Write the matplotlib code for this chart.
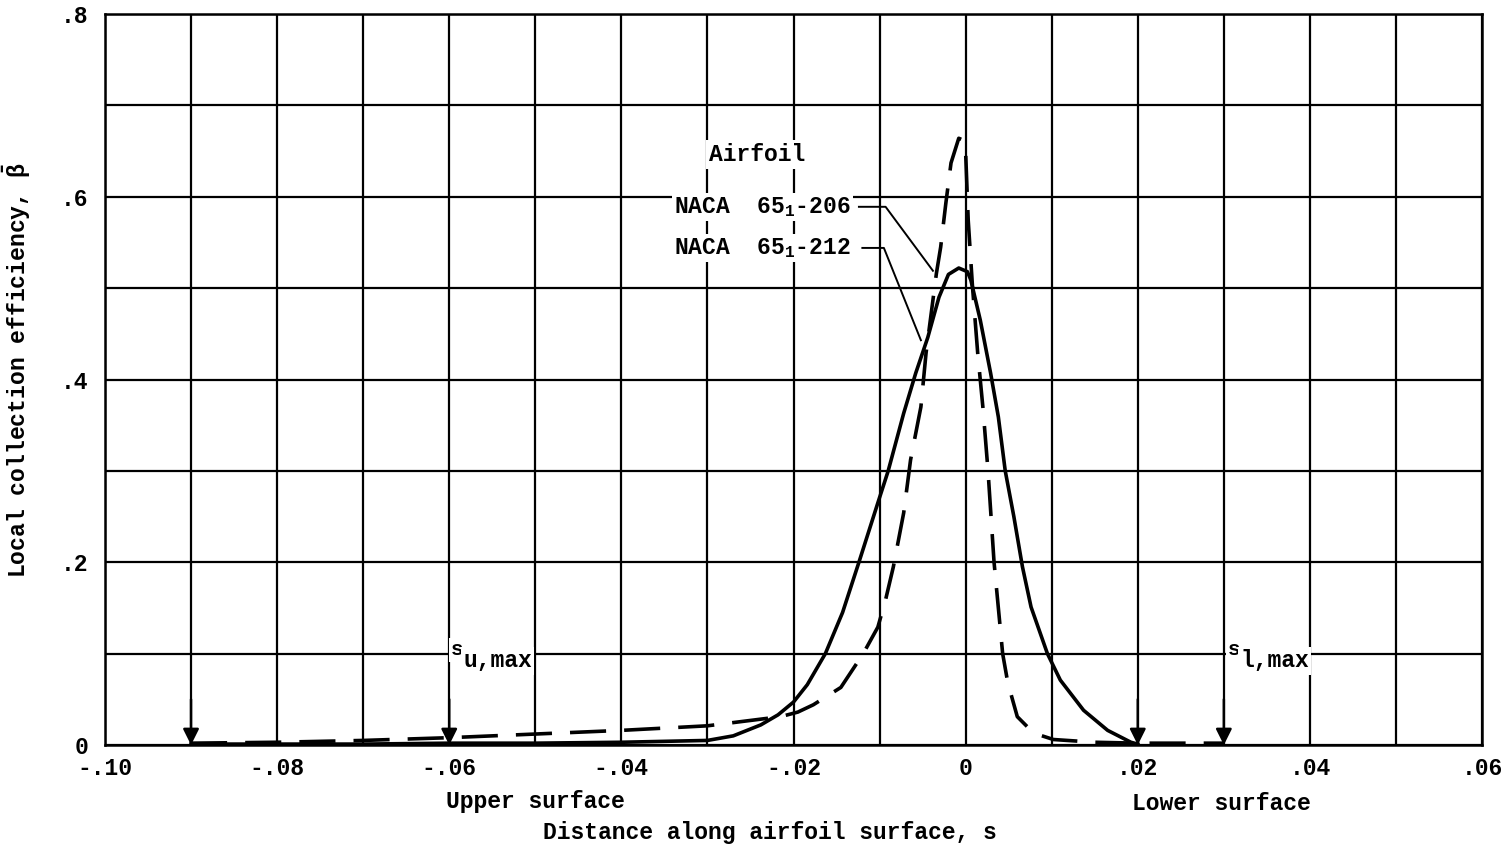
import matplotlib.pyplot as plt
import numpy as np

plt.rcParams['font.family'] = ['Liberation Mono', 'DejaVu Sans Mono']
plt.rcParams['font.weight'] = 'bold'
plt.rcParams['axes.labelweight'] = 'bold'
plt.rcParams['mathtext.fontset'] = 'custom'
plt.rcParams['mathtext.rm'] = 'Liberation Mono:bold'
plt.rcParams['mathtext.it'] = 'Liberation Mono:bold'

# NACA 65_1-212 (solid)
s_212 = [-0.090, -0.080, -0.070, -0.060, -0.050, -0.040, -0.030, -0.027, -0.0238,
         -0.0218, -0.0200, -0.0184, -0.0163, -0.0143, -0.0124, -0.0102, -0.0090,
         -0.0072, -0.0058, -0.0044, -0.0031, -0.0020, -0.0008, 0.0002, 0.0006,
         0.0017, 0.0029, 0.0038, 0.0046, 0.0056, 0.0066, 0.0076, 0.0095, 0.0110,
         0.0137, 0.0165, 0.0192, 0.0200]
beta_212 = [0.001, 0.001, 0.001, 0.002, 0.002, 0.003, 0.005, 0.010, 0.022,
            0.033, 0.047, 0.066, 0.100, 0.145, 0.200, 0.265, 0.300,
            0.363, 0.407, 0.446, 0.490, 0.515, 0.522, 0.518, 0.509,
            0.465, 0.407, 0.359, 0.300, 0.250, 0.195, 0.151, 0.100, 0.071,
            0.038, 0.016, 0.003, 0.001]

# NACA 65_1-206 (dashed)
s_206 = [-0.090, -0.080, -0.070, -0.060, -0.050, -0.040, -0.030, -0.0215, -0.0195,
         -0.0177, -0.0145, -0.0119, -0.0102, -0.0093, -0.0084, -0.0072, -0.0064,
         -0.0052, -0.0046, -0.0038, -0.0034, -0.0029, -0.0023, -0.0017, -0.0008,
         -0.0003, 0.0000, 0.0003, 0.0008, 0.0014, 0.0020, 0.0026, 0.0033, 0.0043,
         0.0049, 0.0060, 0.0079, 0.0102, 0.0150, 0.0200, 0.0300]
beta_206 = [0.002, 0.003, 0.005, 0.008, 0.012, 0.016, 0.021, 0.031, 0.036,
            0.044, 0.063, 0.100, 0.129, 0.159, 0.195, 0.254, 0.312,
            0.370, 0.429, 0.487, 0.516, 0.545, 0.593, 0.637, 0.664,
            0.662, 0.648, 0.574, 0.501, 0.429, 0.370, 0.300, 0.200, 0.100,
            0.068, 0.031, 0.013, 0.006, 0.003, 0.002, 0.002]

x_ticks = [-0.10, -0.08, -0.06, -0.04, -0.02, 0.0, 0.02, 0.04, 0.06]
x_labels = ['-.10', '-.08', '-.06', '-.04', '-.02', '0', '.02', '.04', '.06']
y_ticks = [0.0, 0.2, 0.4, 0.6, 0.8]
y_labels = ['0', '.2', '.4', '.6', '.8']
arrow_s = [-0.09, -0.06, 0.02, 0.03]

FS = 16.6
white = dict(facecolor='white', edgecolor='none', pad=1.5)

fig = plt.figure(figsize=(15.08, 8.49), dpi=100)
ax = fig.add_axes([0.0696, 0.1225, 0.9132, 0.861])

ax.set_xlim(-0.10, 0.06)
ax.set_ylim(0, 0.8)
ax.set_xticks(np.arange(-0.10, 0.0601, 0.01), minor=True)
ax.set_yticks(np.arange(0, 0.801, 0.1), minor=True)
ax.set_xticks(x_ticks)
ax.set_xticklabels(x_labels)
ax.set_yticks(y_ticks)
ax.set_yticklabels(y_labels)
ax.tick_params(which='both', length=0, labelsize=FS)
ax.tick_params(axis='x', pad=9)
ax.tick_params(axis='y', pad=12)
ax.grid(which='both', color='black', lw=1.6)
for sp in ax.spines.values():
    sp.set_linewidth(1.8)

ax.plot(s_212, beta_212, color='black', lw=2.6, zorder=3)
ax.plot(s_206, beta_206, color='black', lw=2.6, dashes=(10, 5), zorder=3)

# arrows for s_max
for xs in arrow_s:
    ax.annotate('', xy=(xs, 0.0), xytext=(xs, 0.05),
                arrowprops=dict(arrowstyle='-|>', color='black', lw=1.8,
                                mutation_scale=24, shrinkA=0, shrinkB=0), zorder=4)

# s_u,max and s_l,max labels
ax.text(-0.0598, 0.104, 's', fontsize=15, ha='left', va='center', bbox=white, zorder=5)
ax.text(-0.0584, 0.092, 'u,max', fontsize=FS, ha='left', va='center', bbox=white, zorder=5)
ax.text(0.0305, 0.104, 's', fontsize=15, ha='left', va='center', bbox=white, zorder=5)
ax.text(0.0319, 0.092, 'l,max', fontsize=FS, ha='left', va='center', bbox=white, zorder=5)

# legend
ax.text(-0.0242, 0.646, 'Airfoil', fontsize=FS, ha='center', va='center',
        bbox=dict(facecolor='white', edgecolor='none', pad=2), zorder=5)
ax.text(-0.0133, 0.589, r'NACA  65$_\mathrm{1}$-206', fontsize=FS, ha='right', va='center',
        bbox=white, zorder=5)
ax.text(-0.0133, 0.544, r'NACA  65$_\mathrm{1}$-212', fontsize=FS, ha='right', va='center',
        bbox=white, zorder=5)
ax.plot([-0.0124, -0.0093, -0.0038], [0.589, 0.589, 0.519], color='black', lw=1.4, zorder=4)
ax.plot([-0.0120, -0.0095, -0.0052], [0.544, 0.544, 0.443], color='black', lw=1.4, zorder=4)

ax.text(-0.05, -0.0615, 'Upper surface', fontsize=FS, ha='center', va='center')
ax.text(0.0297, -0.0645, 'Lower surface', fontsize=FS, ha='center', va='center')
ax.set_xlabel('Distance along airfoil surface, s', fontsize=FS)
ax.xaxis.set_label_coords(0.483, -0.104)
ax.set_ylabel(r'Local collection efficiency, $\bar{\beta}$', fontsize=FS)
ax.yaxis.set_label_coords(-0.052, 0.513)

fig.savefig('out.png', dpi=100)
